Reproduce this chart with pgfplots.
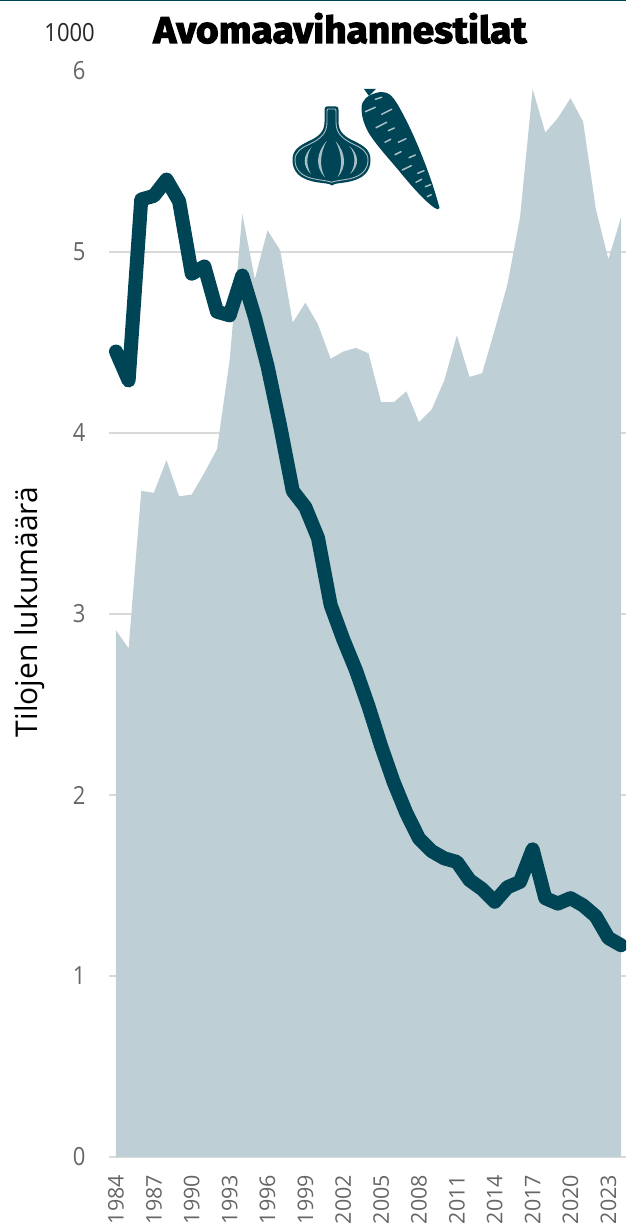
\documentclass[border=0pt]{standalone}
\usepackage{pgfplots}
\pgfplotsset{compat=1.18}
\usepackage{pgfplotstable}
\usepackage{fontspec}
\setmainfont{Open Sans}
\newfontfamily\narrowfont[FakeStretch=0.88]{Open Sans}
\newfontfamily\wideticks{Open Sans}
\newfontfamily\titlefont[FakeStretch=1.05,FakeBold=3.2]{Fira Sans Bold}
\definecolor{dark}{HTML}{004555}
\definecolor{areac}{HTML}{BFCFD6}
\definecolor{gridc}{HTML}{D9D9D9}
\definecolor{tickc}{HTML}{666666}
\definecolor{lite}{HTML}{A9BFC6}
\pgfplotstableread{
year farms
1984 2.91
1985 2.81
1986 3.68
1987 3.67
1988 3.85
1989 3.65
1990 3.66
1991 3.78
1992 3.91
1993 4.40
1994 5.21
1995 4.85
1996 5.12
1997 5.01
1998 4.61
1999 4.72
2000 4.60
2001 4.41
2002 4.45
2003 4.47
2004 4.44
2005 4.17
2006 4.17
2007 4.23
2008 4.06
2009 4.13
2010 4.29
2011 4.54
2012 4.31
2013 4.33
2014 4.57
2015 4.82
2016 5.19
2017 5.90
2018 5.66
2019 5.74
2020 5.85
2021 5.72
2022 5.24
2023 4.96
2024 5.19
}\areatable
\pgfplotstableread{
year farms
1984 4.45
1985 4.29
1986 5.29
1987 5.31
1988 5.40
1989 5.28
1990 4.88
1991 4.92
1992 4.67
1993 4.65
1994 4.87
1995 4.64
1996 4.37
1997 4.04
1998 3.68
1999 3.59
2000 3.42
2001 3.05
2002 2.86
2003 2.69
2004 2.49
2005 2.27
2006 2.07
2007 1.90
2008 1.76
2009 1.69
2010 1.65
2011 1.63
2012 1.53
2013 1.48
2014 1.41
2015 1.49
2016 1.52
2017 1.70
2018 1.43
2019 1.40
2020 1.43
2021 1.39
2022 1.33
2023 1.21
2024 1.17
}\linetable
\begin{document}
\begin{tikzpicture}[x=1pt,y=1pt]
\useasboundingbox (0,0) rectangle (626,1225);
\fill[dark] (0,1223.5) rectangle (626,1225);
\begin{axis}[
  at={(109pt,68pt)},anchor=south west,
  scale only axis,width=517pt,height=1086pt,
  xmin=1983.446,xmax=2024.396,ymin=0,ymax=6,
  axis line style={draw=none},
  xtick={1984,1987,...,2023},
  ytick={0,1,...,5},
  extra y ticks={6},
  extra y tick style={grid=none},
  major tick length=0pt,
  ymajorgrids,
  grid style={gridc,line width=2pt},
  /pgf/number format/1000 sep={},
  /pgf/number format/assume math mode=true,
  xticklabel style={rotate=90,anchor=east,font=\wideticks\fontsize{21.5}{21.5}\selectfont,text=tickc,xshift=-14.5pt},
  yticklabel style={font=\narrowfont\fontsize{25}{25}\selectfont,text=tickc,xshift=-20pt},
]
\addplot[draw=none,fill=areac] table[x=year,y=farms]{\areatable} -- (axis cs:2024,0) -- (axis cs:1984,0) -- cycle;
\addplot[dark,line width=14pt,line join=round,line cap=round] table[x=year,y=farms]{\linetable};
\end{axis}
\node[anchor=base east,font=\narrowfont\fontsize{25}{25}\selectfont,text=black!85,inner sep=0pt] at (95,1183) {1000};
\node[anchor=base,text=black,inner sep=0pt] at (340,1182) {\titlefont\fontsize{37}{37}\selectfont Avomaavihannestilat};
\node[rotate=90,font=\fontsize{30}{30}\selectfont,text=black] at (30,613) {Tilojen lukumäärä};
\begin{scope}[yscale=-1,yshift=-1225]
% garlic
\fill[dark] (327,106.5) -- (336,106.5) .. controls (338,106.5) and (338.5,108) .. (338.5,110)
  -- (338.5,122) .. controls (338.5,132) and (345,137) .. (354,141)
  .. controls (364,146) and (370.5,150) .. (370.5,160)
  .. controls (370.5,172) and (363,178) .. (352,181)
  .. controls (345,183) and (338,183) .. (335,184)
  .. controls (333,186) and (331,186) .. (329,184)
  .. controls (325,183) and (318,183) .. (311,181)
  .. controls (300,178) and (292.5,172) .. (292.5,160)
  .. controls (292.5,150) and (299,146) .. (309,141)
  .. controls (318,137) and (324.5,132) .. (324.5,122)
  -- (324.5,110) .. controls (324.5,108) and (325,106.5) .. (327,106.5) -- cycle;
\draw[lite,line width=0.9pt] (328,109) -- (335,109) .. controls (335.5,109) and (336,110) .. (336,111)
  -- (336,122) .. controls (336,134) and (343,139) .. (353,144)
  .. controls (362,148) and (368,152) .. (368,160)
  .. controls (368,170) and (361,176) .. (351,178.5)
  .. controls (344,180) and (338,180.5) .. (334,181.5)
  .. controls (333,182.5) and (330,182.5) .. (329,181.5)
  .. controls (325,180.5) and (319,180) .. (312,178.5)
  .. controls (302,176) and (295,170) .. (295,160)
  .. controls (295,152) and (301,148) .. (310,144)
  .. controls (320,139) and (327,134) .. (327,122)
  -- (327,111) .. controls (327,110) and (327.5,109) .. (328,109) -- cycle;
\fill[lite] (326.7,141) .. controls (316,153) and (315,167) .. (325,177.5)
  .. controls (319,167) and (320,153) .. (326.7,141) -- cycle;
\fill[lite] (335.5,141) .. controls (346,153) and (347,167) .. (337.5,177.5)
  .. controls (343,167) and (342,153) .. (335.5,141) -- cycle;
\fill[lite] (311.7,147) .. controls (303,155) and (302,166) .. (311,174)
  .. controls (306,166) and (306,155) .. (311.7,147) -- cycle;
\fill[lite] (349.3,146) .. controls (359,154) and (360,166) .. (350,174)
  .. controls (356,166) and (356,154) .. (349.3,146) -- cycle;
% carrot
\fill[dark] (364,89) -- (376,89) -- (369,96) -- cycle;
\fill[dark] (361.5,108) .. controls (361.5,100) and (368,95) .. (376,93)
  .. controls (384,90.5) and (390,93) .. (394,99)
  .. controls (399,106) and (404,116) .. (408,124)
  .. controls (416,140) and (426,165) .. (432,183)
  .. controls (435,192) and (438,202) .. (439.5,208)
  .. controls (439.5,210) and (437,209.5) .. (434,207.5)
  .. controls (426,202) and (412,187) .. (400,172)
  .. controls (390,160) and (378,147) .. (370,135)
  .. controls (365,127) and (361.5,118) .. (361.5,108) -- cycle;
\draw[lite,line width=1.5pt,line cap=round]
 (365.3,111.7)--(375.3,107.3) (375.3,99.3)--(381.7,97.3) (381.7,114.3)--(391.7,109.3)
 (376,127.7)--(386.7,122.3) (388.3,130.7)--(394.3,128) (385,142.3)--(390.7,139.3)
 (398.3,142.3)--(406,138.7) (395,154.7)--(401,151.7) (409,157.7)--(415.3,155)
 (402.3,170)--(411.3,165.7) (417.7,173.3)--(424,170.7) (416,182.3)--(421.7,179.3)
 (425.3,186.7)--(430.7,184.7) (427.3,196.7)--(431.3,194.7);
\end{scope}
\end{tikzpicture}
\end{document}
